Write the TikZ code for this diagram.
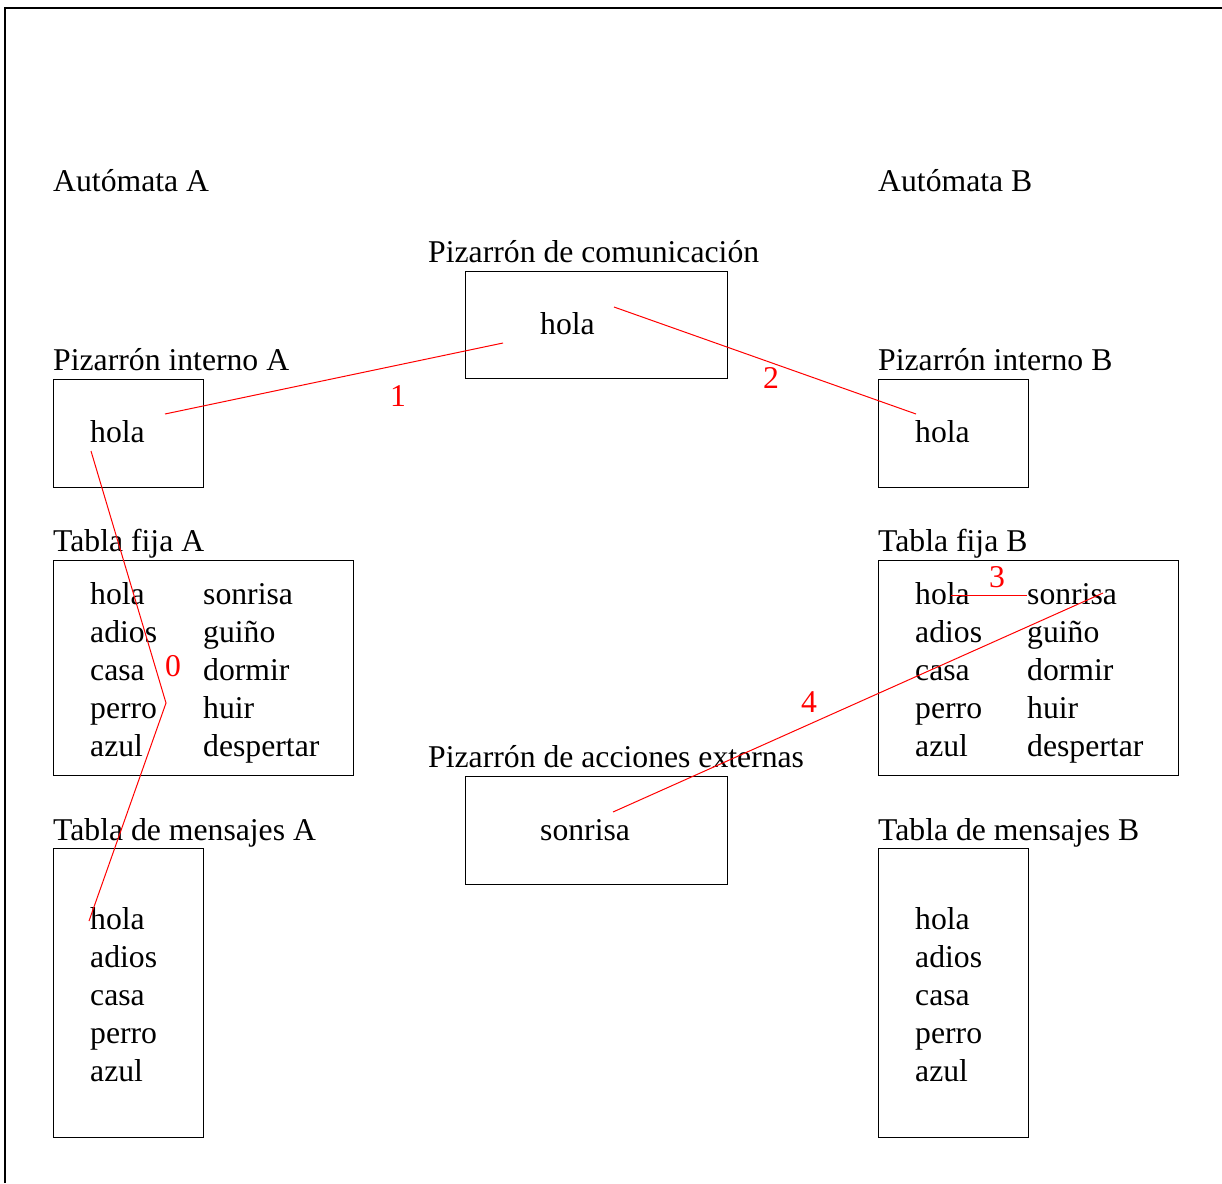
\documentclass[tikz,border=0pt]{standalone}
\usepackage{fontspec}
\setmainfont{Liberation Serif}
\begin{document}
\begin{tikzpicture}[x=1pt,y=-1pt,
  lbl/.style={anchor=base west, inner sep=0pt, font=\fontsize{31.7}{38}\selectfont},
  panel/.style={draw, line width=1pt, anchor=north west, inner sep=0pt},
  num/.style={text=red, inner sep=0pt, font=\fontsize{31.7}{38}\selectfont},
  link/.style={red, line width=1pt}]
\useasboundingbox (0,0) rectangle (1222,1183);
% page frame
\draw[line width=2.5pt] (5,1183) -- (5,8) -- (1222,8);

% headings
\node[lbl] (autA) at (53,191) {Autómata A};
\node[lbl] (autB) at (878,191) {Autómata B};
\node[lbl] (tcom) at (428,262) {Pizarrón de comunicación};
\node[lbl] (tpiA) at (53,370) {Pizarrón interno A};
\node[lbl] (tpiB) at (878,370) {Pizarrón interno B};
\node[lbl] (ttfA) at (53,551) {Tabla fija A};
\node[lbl] (ttfB) at (878,551) {Tabla fija B};
\node[lbl] (tacc) at (428,767) {Pizarrón de acciones externas};
\node[lbl] (ttmA) at (53,840) {Tabla de mensajes A};
\node[lbl] (ttmB) at (878,840) {Tabla de mensajes B};

% boxes
\node[panel, minimum width=262pt, minimum height=107pt] (com) at (465,271) {};
\node[panel, minimum width=150pt, minimum height=108pt] (piA) at (52.5,379) {};
\node[panel, minimum width=150pt, minimum height=108pt] (piB) at (877.5,379) {};
\node[panel, minimum width=300pt, minimum height=215pt] (tfA) at (52.5,560) {};
\node[panel, minimum width=300pt, minimum height=215pt] (tfB) at (877.5,560) {};
\node[panel, minimum width=262pt, minimum height=108pt] (acc) at (465,776) {};
\node[panel, minimum width=150pt, minimum height=289pt] (tmA) at (52.5,848) {};
\node[panel, minimum width=150pt, minimum height=289pt] (tmB) at (877.5,848) {};

% box contents
\node[lbl] (comw) at (540,334) {hola};
\node[lbl] (piAw) at (90,442) {hola};
\node[lbl] (piBw) at (915,442) {hola};
\node[lbl] (accw) at (540,840) {sonrisa};

\foreach \w [count=\i] in {hola,adios,casa,perro,azul} {
  \node[lbl] (tfAl\i) at (90,566+38*\i) {\w};
  \node[lbl] (tfBl\i) at (915,566+38*\i) {\w};
  \node[lbl] (tmAl\i) at (90,891+38*\i) {\w};
  \node[lbl] (tmBl\i) at (915,891+38*\i) {\w};
}
\foreach \w [count=\i] in {sonrisa,guiño,dormir,huir,despertar} {
  \node[lbl] (tfAr\i) at (203,566+38*\i) {\w};
  \node[lbl] (tfBr\i) at (1027,566+38*\i) {\w};
}

% message path
\coordinate (p0a) at (91,451);
\coordinate (p0b) at (166,703);
\coordinate (p0c) at (89,921);
\coordinate (p1a) at (165,414);
\coordinate (p1b) at (503,343);
\coordinate (p2a) at (614,307);
\coordinate (p2b) at (916,414);
\coordinate (p3a) at (951,595);
\coordinate (p3b) at (1027,595);
\coordinate (p4a) at (613,812);
\coordinate (p4b) at (1103,593);

\draw[link] (p0a) -- (p0b) -- (p0c);
\draw[link] (p1a) -- (p1b);
\draw[link] (p2a) -- (p2b);
\draw[link] (p3a) -- (p3b);
\draw[link] (p4a) -- (p4b);

\node[num] (n0) at (173,666) {0};
\node[num] (n1) at (398,396) {1};
\node[num] (n2) at (771,378) {2};
\node[num] (n3) at (997,577) {3};
\node[num] (n4) at (809,702) {4};
\end{tikzpicture}
\end{document}
